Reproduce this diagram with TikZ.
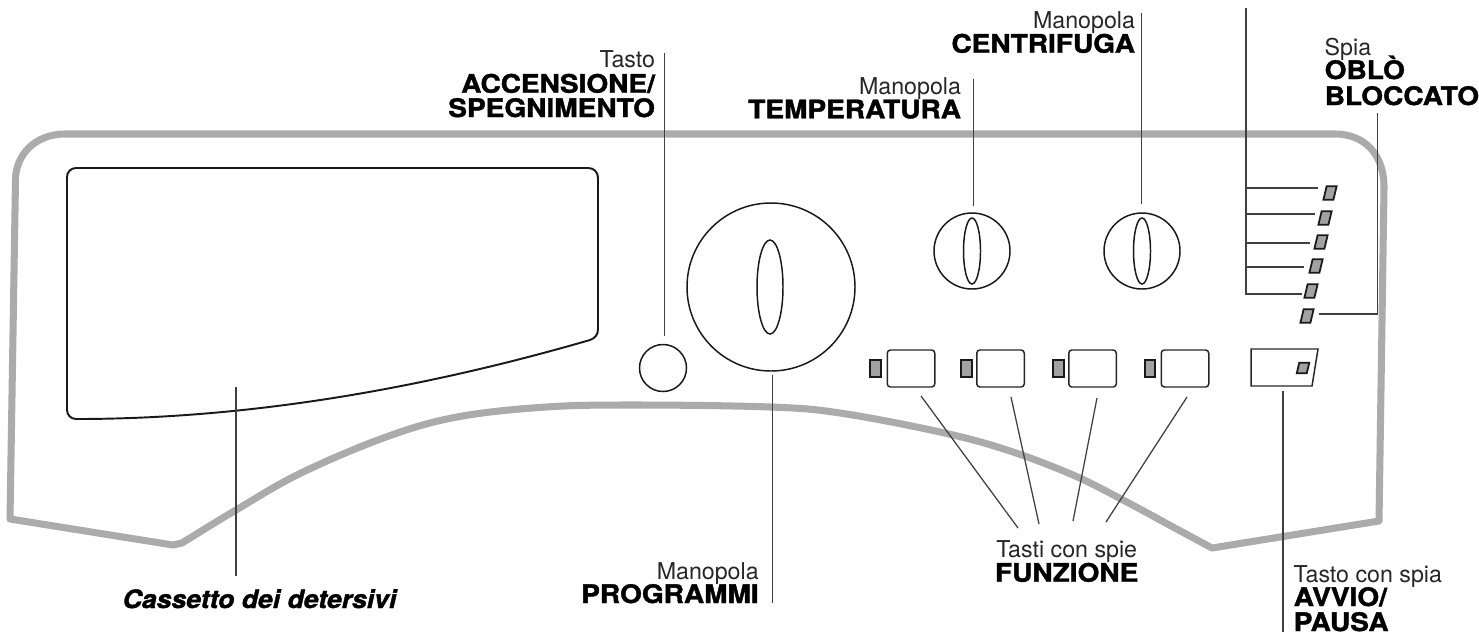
\documentclass[tikz,border=0pt]{standalone}
\usepackage{fontspec}
\usetikzlibrary{shapes.geometric}
\setmainfont{TeX Gyre Heros}
\newfontfamily\spessa[BoldFeatures={FakeBold=1.5,FakeStretch=1.1}]{TeX Gyre Heros}
\newfontfamily\obliqua[BoldItalicFeatures={FakeBold=1.5,FakeStretch=1.05}]{TeX Gyre Heros}
\newcommand{\px}{0.01cm}
\newcommand{\pesante}[1]{{\spessa\bfseries\fontsize{7.25}{7}\selectfont #1}}
\definecolor{pannello}{HTML}{ABABAB}
\definecolor{grigiospia}{HTML}{A2A2A2}
\begin{document}
\begin{tikzpicture}[x=0.01cm,y=-0.01cm,
  bordo/.style={draw=pannello,line width=2pt,line join=round},
  cassetto/.style={draw=black!90,line width=0.55pt},
  filo/.style={draw=black!75,line width=0.36pt},
  manopola/.style={circle,draw=black!90,line width=0.42pt,inner sep=0pt},
  tacca/.style={ellipse,draw=black!90,line width=0.42pt,inner sep=0pt},
  tasto/.style={rectangle,draw=black!85,line width=0.42pt,rounded corners=0.9pt,
    minimum width=47.5*\px,minimum height=37*\px,inner sep=0pt},
  spia/.style={rectangle,draw=black!90,fill=grigiospia,line width=0.5pt,inner sep=0pt,
    minimum width=10*\px,minimum height=13.5*\px,xslant=0.24,transform shape},
  spiatasto/.style={rectangle,draw=black!90,fill=grigiospia,line width=0.5pt,inner sep=0pt,
    minimum width=10.5*\px,minimum height=17.5*\px},
  testo/.style={inner sep=0pt,text=black!85,font=\fontsize{6.6}{7}\selectfont}
]
  \useasboundingbox (0,0) rectangle (1479,642);
  % pannello
  \draw[bordo] (65,134) -- (1335,134) .. controls (1365,134) and (1384,155) .. (1384,187)
    -- (1379,521) -- (1212,548)
    -- plot[smooth,tension=0.6] coordinates {(1173,527) (1123,500) (1073,475) (1007,450) (940,432)
      (840,413) (770,407) (636,405) (546,407) (457,417) (386,437) (301,473) (236,510) (182,543)}
    -- (173,545) -- (10,519) -- (15.5,180)
    .. controls (15.5,155) and (35,134) .. (65,134) -- cycle;
  \draw[cassetto] (76,168) -- (588,168) .. controls (594,168) and (598,172) .. (598,178)
    -- (598,329) .. controls (598,335) and (595,338) .. (590,340)
    .. controls (400,395) and (230,419) .. (76,419)
    .. controls (71,419) and (67,415) .. (67,410) -- (67,177)
    .. controls (67,172) and (71,168) .. (76,168) -- cycle;
  % manopole e tasti
  \node[manopola,minimum size=47*\px] (accensione) at (663,368) {};
  \node[manopola,minimum size=168*\px] (programmi) at (771,287) {};
  \node[tacca,minimum width=26*\px,minimum height=94*\px] at (770,287) {};
  \node[manopola,minimum size=76*\px] (temperatura) at (972,251) {};
  \node[tacca,minimum width=17*\px,minimum height=66*\px] at (972,251) {};
  \node[manopola,minimum size=76*\px] (centrifuga) at (1142,251) {};
  \node[tacca,minimum width=17*\px,minimum height=66*\px] at (1142,251) {};
  \foreach \i/\t/\s in {1/911/875.5,2/1000.5/966.5,3/1092.5/1058.5,4/1185/1150}{
    \node[tasto] (funzione\i) at (\t,368.5) {};
    \node[spiatasto] at (\s,368.5) {};
  }
  \draw[draw=black!85,line width=0.42pt] (1251,349) -- (1318,349) -- (1312,386) -- (1251,386) -- cycle;
  \coordinate (avvio) at (1283,386);
  \node[spia,minimum width=10*\px,minimum height=10.5*\px] at (1303,368) {};
  \foreach \i/\x/\y in {1/1330/193,2/1325/218,3/1321/242,4/1316/266,5/1311/291,6/1307/316}
    \node[spia] (spia\i) at (\x,\y) {};
  % testi
  \node[testo,anchor=base east] (t1) at (655.7,67.7) {Tasto};
  \node[anchor=base east,inner sep=0pt] (t2) at (655.7,92.7) {\pesante{ACCENSIONE/}};
  \node[anchor=base east,inner sep=0pt] (t3) at (655.7,117) {\pesante{SPEGNIMENTO}};
  \node[testo,anchor=base east] (t4) at (961.7,94.7) {Manopola};
  \node[anchor=base east,inner sep=0pt] (t5) at (961.7,118.3) {\pesante{TEMPERATURA}};
  \node[testo,anchor=base east] (t6) at (1135.7,28) {Manopola};
  \node[anchor=base east,inner sep=0pt] (t7) at (1135.7,52.7) {\pesante{CENTRIFUGA}};
  \node[testo,anchor=base west] (t8) at (1324,55) {Spia};
  \node[anchor=base west,inner sep=0pt] (t9) at (1324,79) {\pesante{OBLÒ}};
  \node[anchor=base west,inner sep=0pt] (t10) at (1324,105) {\pesante{BLOCCATO}};
  \node[testo,anchor=base] (t11) at (1066.7,557) {Tasti con spie};
  \node[anchor=base,inner sep=0pt] (t12) at (1066.7,581.7) {\pesante{FUNZIONE}};
  \node[testo,anchor=base west] (t13) at (1293,582) {Tasto con spia};
  \node[anchor=base west,inner sep=0pt] (t14) at (1293,606) {\pesante{AVVIO/}};
  \node[anchor=base west,inner sep=0pt] (t15) at (1293,631) {\pesante{PAUSA}};
  \node[testo,anchor=base east] (t16) at (759.4,579) {Manopola};
  \node[anchor=base east,inner sep=0pt] (t17) at (759.4,603) {\pesante{PROGRAMMI}};
  \node[anchor=base west,inner sep=0pt] (detersivi) at (122,608)
    {\obliqua\bfseries\itshape\fontsize{7.2}{7}\selectfont Cassetto dei detersivi};
  % fili
  \coordinate (fa) at (664.7,53);
  \coordinate (fb) at (973.7,79);
  \coordinate (fc) at (1141.7,13);
  \coordinate (fd) at (772.5,603);
  \coordinate (fe) at (236,387);
  \coordinate (ff) at (1283,632);
  \coordinate (tronco) at (1246,8);
  \coordinate (oa) at (1377.7,113);
  \coordinate (ob) at (1319,314);
  \draw[filo,shorten >=2.1pt] (fa) -- (fa |- accensione.north);
  \draw[filo,shorten >=1.7pt] (fb) -- (fb |- temperatura.north);
  \draw[filo,shorten >=2.3pt] (fc) -- (fc |- centrifuga.north);
  \draw[filo,shorten >=1pt] (fd) -- (fd |- programmi.south);
  \draw[filo,shorten >=3.5pt] (fe) -- (fe |- detersivi.north);
  \draw[filo,shorten >=1.4pt] (ff) -- (avvio);
  \draw[filo] (tronco) -- (1246,294);
  \foreach \y/\x in {188/1318,214/1315,243/1310,267/1304,294/1302}
    \draw[filo] (1245,\y) -- (\x,\y);
  \draw[filo] (oa) |- (ob);
  \coordinate (fz1) at (1018,528);
  \coordinate (fz2) at (1039,524);
  \coordinate (fz3) at (1073,521);
  \coordinate (fz4) at (1106,522);
  \draw[filo] (fz1) -- (921,396);
  \draw[filo] (fz2) -- (1011,397);
  \draw[filo] (fz3) -- (1097,398);
  \draw[filo] (fz4) -- (1187,397);
\end{tikzpicture}
\end{document}
